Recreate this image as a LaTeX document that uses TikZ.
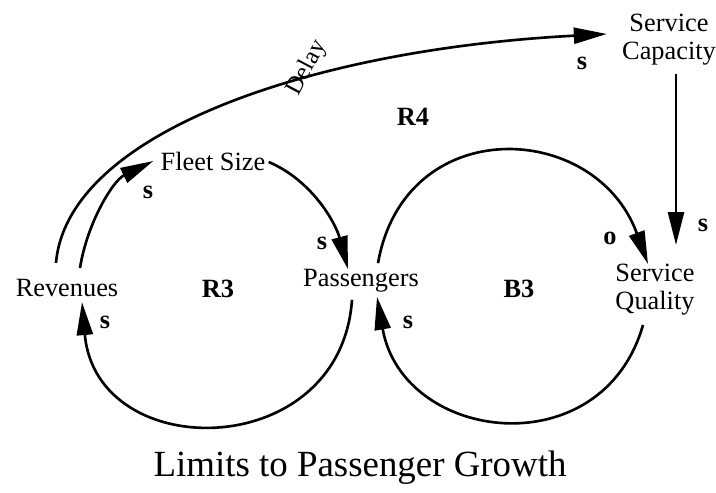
\documentclass[tikz,border=0pt]{standalone}
\usepackage{fontspec}
\setmainfont{Liberation Serif}
\usetikzlibrary{arrows.meta,calc}
\tikzset{
  var/.style={font=\fontsize{15}{16}\selectfont,align=center,inner sep=0pt},
  pol/.style={font=\fontsize{15}{16}\selectfont\bfseries,inner sep=0pt},
  loopid/.style={font=\fontsize{15}{16}\selectfont\bfseries,inner sep=0pt},
  link/.style={-{Triangle[length=0.66cm,width=0.32cm]},line width=1.5pt},
}

\begin{document}
\begin{tikzpicture}[x=0.02cm,y=0.02cm]
  \useasboundingbox (0,0) rectangle (716,493);
  % variables
  \node[var] (rev)   at (67,205)  {Revenues};
  \node[var] (fleet) at (213,332) {Fleet Size};
  \node[var] (pass)  at (361,212) {Passengers};
  \node[var] (qual)  at (655,203) {Service\\Quality};
  \node[var] (cap)   at (669,453) {Service\\Capacity};

  % R3 loop
  \draw[link] ($(rev)+(13,20)$) to[out=81,in=206,looseness=0.89] ($(fleet.west)+(-7,0)$);
  \draw[link] ($(fleet.east)+(3,-1)$) to[out=-23,in=105,looseness=0.91] ($(pass.north)+(-13,0)$);
  \draw[link] ($(pass.south)+(-9,-7)$) to[out=-94,in=-85,looseness=1.55] ($(rev.south)+(15,-5)$);

  % B3 loop
  \draw[link] ($(pass.north)+(17,6)$) to[out=80,in=110,looseness=1.45] ($(qual.north)+(-7,0)$);
  \draw[link] ($(qual.south)+(-12,-9)$) to[out=-106,in=-80,looseness=1.42] ($(pass.south)+(16,-4)$);

  % R4 loop
  \draw[link] ($(rev.north)+(-11,16)$) to[out=85,in=183,out looseness=0.556,in looseness=1.284] ($(cap.west)+(-15,6)$);
  \draw[link] ($(cap.south)+(7,-8)$) -- ($(qual.north)+(21,19)$);
  \node[font=\fontsize{14}{16}\selectfont,rotate=62] (delay) at (307,425) {Delay};

  % polarities
  \node[pol] (p1) at (148,301) {s};
  \node[pol] (p2) at (322,250) {s};
  \node[pol] (p3) at (105,171) {s};
  \node[pol] (p4) at (408,171) {s};
  \node[pol] (p5) at (610,255) {o};
  \node[pol] (p6) at (703,268) {s};
  \node[pol] (p7) at (582,430) {s};

  % loop names
  \node[loopid] (r3) at (218,204) {R3};
  \node[loopid] (b3) at (519,204) {B3};
  \node[loopid] (r4) at (413,376) {R4};

  \node[font=\fontsize{21}{24}\selectfont] (title) at (360,25) {Limits to Passenger Growth};
\end{tikzpicture}
\end{document}
